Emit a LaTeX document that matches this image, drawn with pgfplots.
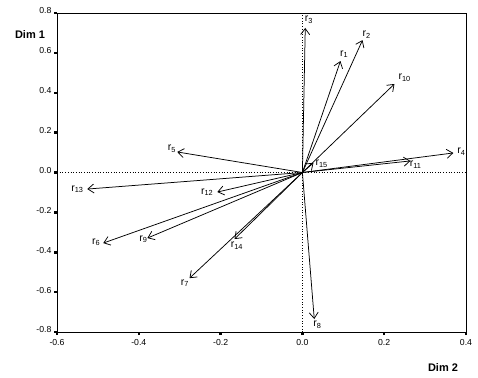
\documentclass[border=0pt]{standalone}
\usepackage{fontspec}
\setmainfont{Liberation Sans}
\usepackage{pgfplots}
\pgfplotsset{compat=1.18}
\usetikzlibrary{arrows.meta}
\newcommand{\rvec}[3]{%
  \addplot[black, line width=0.75pt, -{Straight Barb[length=6pt,width=9pt,line width=0.75pt]}] coordinates {(0,0) (#1,#2)};
}
\begin{document}
\begin{tikzpicture}[x=1pt,y=1pt]
\useasboundingbox (0,0) rectangle (478,377);
\begin{axis}[
  at={(57pt,45pt)}, anchor=south west,
  scale only axis, width=409pt, height=319pt,
  xmin=-0.6, xmax=0.4, ymin=-0.8, ymax=0.8,
  xtick={-0.6,-0.4,-0.2,0,0.2,0.4},
  ytick={-0.8,-0.6,-0.4,-0.2,0,0.2,0.4,0.6,0.8},
  xtick pos=left, ytick pos=left,
  tick align=outside, major tick length=3pt,
  tick style={black, line width=2.5pt},
  axis line style={line width=1pt},
  ticklabel style={font=\fontsize{8.7}{10}\selectfont},
  xticklabel style={yshift=-1pt},
  yticklabel style={xshift=1pt, yshift=2pt},
  /pgf/number format/.cd, fixed, fixed zerofill, precision=1, assume math mode=true,
  /pgfplots/.cd,
  clip=false,
]
\addplot[black, dotted, line width=0.7pt] coordinates {(0,-0.8) (0,0.8)};
\addplot[black, dotted, line width=0.7pt] coordinates {(-0.6,0) (0.4,0)};
\rvec{0.007}{0.725}{3}
\rvec{0.147}{0.664}{2}
\rvec{0.093}{0.559}{1}
\rvec{0.225}{0.444}{10}
\rvec{0.369}{0.098}{4}
\rvec{0.264}{0.058}{11}
\rvec{0.027}{0.048}{15}
\rvec{-0.306}{0.103}{5}
\rvec{-0.526}{-0.083}{13}
\rvec{-0.208}{-0.098}{12}
\rvec{-0.487}{-0.354}{6}
\rvec{-0.379}{-0.329}{9}
\rvec{-0.166}{-0.334}{14}
\rvec{-0.276}{-0.530}{7}
\rvec{0.029}{-0.735}{8}
\begin{scope}[every node/.style={font=\fontsize{10.5}{12}\selectfont, inner sep=0pt}]
\node at (axis cs:0.016,0.765) {r\textsubscript{3}};
\node at (axis cs:0.157,0.690) {r\textsubscript{2}};
\node at (axis cs:0.102,0.593) {r\textsubscript{1}};
\node at (axis cs:0.250,0.474) {r\textsubscript{10}};
\node at (axis cs:0.389,0.105) {r\textsubscript{4}};
\node at (axis cs:0.277,0.040) {r\textsubscript{11}};
\node at (axis cs:0.047,0.043) {r\textsubscript{15}};
\node at (axis cs:-0.319,0.118) {r\textsubscript{5}};
\node at (axis cs:-0.550,-0.083) {r\textsubscript{13}};
\node at (axis cs:-0.233,-0.098) {r\textsubscript{12}};
\node at (axis cs:-0.504,-0.349) {r\textsubscript{6}};
\node at (axis cs:-0.389,-0.334) {r\textsubscript{9}};
\node at (axis cs:-0.160,-0.366) {r\textsubscript{14}};
\node at (axis cs:-0.287,-0.556) {r\textsubscript{7}};
\node at (axis cs:0.037,-0.765) {r\textsubscript{8}};
\end{scope}
\end{axis}
\node[font=\bfseries\fontsize{11}{13}\selectfont] at (30,342) {Dim 1};
\node[font=\bfseries\fontsize{11}{13}\selectfont] at (443,9) {Dim 2};
\end{tikzpicture}
\end{document}
